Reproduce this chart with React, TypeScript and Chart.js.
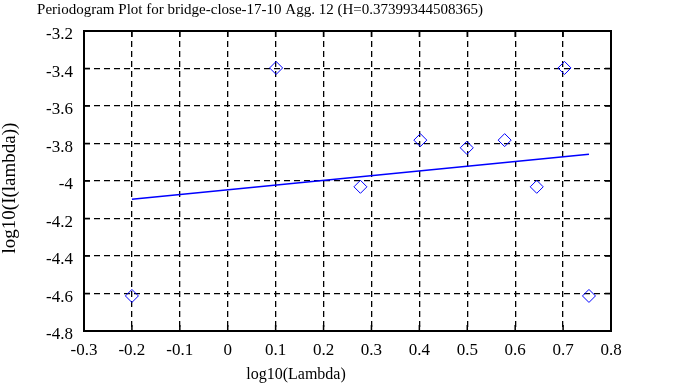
import React, { useEffect, useRef } from "react";
import { Chart, registerables } from "chart.js";

Chart.register(...registerables);

const TITLE = "Periodogram Plot for bridge-close-17-10 Agg. 12 (H=0.37399344508365)";
const X_LABEL = "log10(Lambda)";
const Y_LABEL = "log10(I(lambda))";

const logLambda = [-0.2, 0.101, 0.277, 0.402, 0.499, 0.578, 0.645, 0.703, 0.754];
const logI = [-4.613, -3.397, -4.031, -3.782, -3.823, -3.782, -4.031, -3.397, -4.613];

const fitX = [-0.2, 0.754];
const fitY = [-4.097, -3.857];

const X_MIN = -0.3, X_MAX = 0.8, X_STEP = 0.1;
const Y_MIN = -4.8, Y_MAX = -3.2, Y_STEP = 0.2;

const FONT = "'Liberation Serif', 'DejaVu Serif', serif";

const fmt = (v: number) => {
  const n = Number(v.toFixed(1));
  return n === 0 ? "0" : String(n);
};

const framePlugin = {
  id: "gnuFrame",
  beforeDatasetsDraw(chart: any) {
    const { ctx, chartArea: a, scales } = chart;
    ctx.save();
    ctx.strokeStyle = "#000";
    ctx.lineWidth = 1.5;
    const tl = 6;
    scales.x.ticks.forEach((t: any) => {
      const px = scales.x.getPixelForValue(t.value);
      ctx.beginPath();
      ctx.moveTo(px, a.bottom);
      ctx.lineTo(px, a.bottom - tl);
      ctx.moveTo(px, a.top);
      ctx.lineTo(px, a.top + tl);
      ctx.stroke();
    });
    scales.y.ticks.forEach((t: any) => {
      const py = scales.y.getPixelForValue(t.value);
      ctx.beginPath();
      ctx.moveTo(a.left, py);
      ctx.lineTo(a.left + tl, py);
      ctx.moveTo(a.right, py);
      ctx.lineTo(a.right - tl, py);
      ctx.stroke();
    });
    ctx.lineWidth = 2;
    ctx.strokeRect(a.left, a.top, a.right - a.left, a.bottom - a.top);
    ctx.restore();
  },
  afterDraw(chart: any) {
    const { ctx } = chart;
    ctx.save();
    ctx.fillStyle = "#000";
    ctx.font = `15px ${FONT}`;
    ctx.textAlign = "center";
    ctx.textBaseline = "alphabetic";
    ctx.fillText(TITLE, 260, 14);
    ctx.font = `16px ${FONT}`;
    ctx.fillText(X_LABEL, 296, 379);
    ctx.font = `19px ${FONT}`;
    ctx.translate(15, 188);
    ctx.rotate(-Math.PI / 2);
    ctx.fillText(Y_LABEL, 0, 0);
    ctx.restore();
  },
};

export default function App() {
  const ref = useRef<HTMLCanvasElement>(null);
  useEffect(() => {
    document.body.style.margin = "0";
    const edgeColor = (n: number) => (c: any) =>
      c.index === 0 || c.index === n ? "rgba(0,0,0,0)" : "#000";
    const chart = new Chart(ref.current as HTMLCanvasElement, {
      type: "scatter",
      data: {
        datasets: [
          {
            label: "periodogram",
            data: logLambda.map((x, i) => ({ x, y: logI[i] })),
            showLine: false,
            pointStyle: "rectRot",
            pointRadius: 6.5,
            pointBorderColor: "#0000ff",
            pointBackgroundColor: "rgba(0,0,0,0)",
            pointBorderWidth: 1,
          },
          {
            label: "fit",
            type: "line",
            data: fitX.map((x, i) => ({ x, y: fitY[i] })),
            borderColor: "#0000ff",
            borderWidth: 1.6,
            pointRadius: 0,
            fill: false,
          },
        ],
      },
      options: {
        animation: false,
        responsive: false,
        devicePixelRatio: 1,
        layout: { padding: { left: 0, right: 84, top: 31, bottom: 0 } },
        plugins: { legend: { display: false }, tooltip: { enabled: false }, title: { display: false } },
        scales: {
          x: {
            type: "linear",
            min: X_MIN,
            max: X_MAX,
            ticks: {
              stepSize: X_STEP,
              callback: (v: any) => fmt(Number(v)),
              font: { family: FONT, size: 17 },
              color: "#000",
              padding: 9,
              maxRotation: 0,
              autoSkip: false,
            },
            grid: { color: edgeColor(11), lineWidth: 1.3, drawTicks: false },
            border: { display: false, dash: [6, 4] },
            afterFit: (s: any) => { s.height = 56; },
          },
          y: {
            type: "linear",
            min: Y_MIN,
            max: Y_MAX,
            ticks: {
              stepSize: Y_STEP,
              callback: (v: any) => fmt(Number(v)),
              font: { family: FONT, size: 17 },
              color: "#000",
              padding: 11,
              labelOffset: 4,
              autoSkip: false,
            },
            grid: { color: edgeColor(8), lineWidth: 1.3, drawTicks: false },
            border: { display: false, dash: [6, 4] },
            afterFit: (s: any) => { s.width = 84; },
          },
        },
      },
      plugins: [framePlugin],
    });
    return () => chart.destroy();
  }, []);
  return <canvas ref={ref} width={695} height={387} style={{ display: "block" }} />;
}
